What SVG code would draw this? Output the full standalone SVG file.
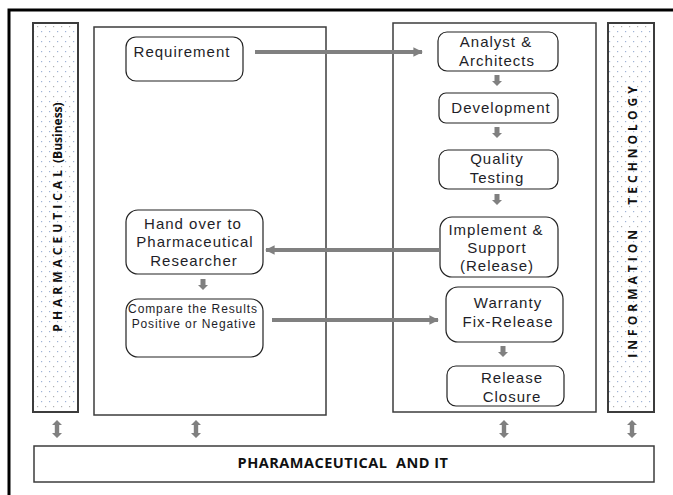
<svg xmlns="http://www.w3.org/2000/svg" width="673" height="495" viewBox="0 0 673 495">
  <defs>
    <pattern id="dots" x="0" y="0" width="8" height="10" patternUnits="userSpaceOnUse">
      <rect x="1" y="1" width="1.2" height="1.2" fill="#9fb3d6"/>
      <rect x="5" y="6" width="1.2" height="1.2" fill="#b0b0b0"/>
    </pattern>
    <marker id="head" viewBox="0 0 10 10" refX="9" refY="5" markerWidth="2.4" markerHeight="2.4" orient="auto" markerUnits="strokeWidth">
      <path d="M0,0 L10,5 L0,10 z" fill="#808080"/>
    </marker>
    <g id="down">
      <rect x="-2.5" y="0" width="5" height="6" fill="#808080"/>
      <path d="M-5,6 L5,6 L0,11 z" fill="#808080"/>
    </g>
    <g id="updown">
      <path d="M0,0 L5,5 L2.2,5 L2.2,13 L5,13 L0,18 L-5,13 L-2.2,13 L-2.2,5 L-5,5 z" fill="#808080"/>
    </g>
  </defs>
  <style>
    .panel { fill: #fff; stroke: #3c3c3c; stroke-width: 1.5; }
    .band { fill: url(#dots); stroke: #3c3c3c; stroke-width: 2; }
    .box { fill: #fff; stroke: #222; stroke-width: 1.2; }
    .t { font-family: "Liberation Sans", Arial, sans-serif; font-size: 15px; letter-spacing: 1px; fill: #1e1e28; text-anchor: middle; }
    .ts { font-size: 12px; letter-spacing: 0.9px; }
    .ft { font-family: "Open Sans", "Noto Sans", sans-serif; font-weight: bold; font-size: 14.5px; letter-spacing: 0.5px; fill: #111; text-anchor: middle; }
    .vt { font-family: "Open Sans", "Noto Sans", sans-serif; font-weight: bold; font-size: 12px; fill: #111; text-anchor: middle; }
    .link { stroke: #808080; stroke-width: 4; fill: none; marker-end: url(#head); }
  </style>

  <rect width="673" height="495" fill="#fff"/>
  <!-- outer frame -->
  <path d="M9,495 L9,10 L673,10" fill="none" stroke="#000" stroke-width="3"/>

  <!-- side bands -->
  <g id="band-pharma">
    <rect class="band" x="33" y="23" width="45" height="389"/>
    <text class="vt" transform="translate(62,217) rotate(-90)"><tspan letter-spacing="4">PHARMACEUTICAL</tspan><tspan> (Business)</tspan></text>
  </g>
  <g id="band-it">
    <rect class="band" x="608" y="23" width="46" height="389"/>
    <text class="vt" transform="translate(637,220) rotate(-90)" letter-spacing="4" xml:space="preserve">INFORMATION   TECHNOLOGY</text>
  </g>

  <!-- panels -->
  <g id="panel-business"><rect class="panel" x="94" y="27" width="232" height="388"/></g>
  <g id="panel-it"><rect class="panel" x="393" y="23" width="203" height="389"/></g>

  <!-- nodes -->
  <g id="requirement">
    <rect class="box" x="126" y="37" width="117" height="44" rx="10"/>
    <text class="t" x="182" y="57">Requirement</text>
  </g>
  <g id="handover">
    <rect class="box" x="126" y="210" width="137" height="64" rx="12"/>
    <text class="t" x="193" y="229">Hand over to</text>
    <text class="t" x="195" y="247">Pharmaceutical</text>
    <text class="t" x="194" y="266">Researcher</text>
  </g>
  <g id="compare">
    <rect class="box" x="126" y="299" width="137" height="58" rx="12"/>
    <text class="t ts" x="193" y="313">Compare the Results</text>
    <text class="t ts" x="194" y="328">Positive or Negative</text>
  </g>
  <g id="analyst">
    <rect class="box" x="438" y="32" width="120" height="39" rx="9"/>
    <text class="t" x="496" y="47">Analyst &amp;</text>
    <text class="t" x="497" y="66">Architects</text>
  </g>
  <g id="development">
    <rect class="box" x="439" y="93" width="119" height="30" rx="7"/>
    <text class="t" x="501" y="113">Development</text>
  </g>
  <g id="quality">
    <rect class="box" x="439" y="150" width="119" height="39" rx="9"/>
    <text class="t" x="497" y="164">Quality</text>
    <text class="t" x="497" y="183">Testing</text>
  </g>
  <g id="implement">
    <rect class="box" x="440" y="217" width="118" height="60" rx="12"/>
    <text class="t" x="496" y="235">Implement &amp;</text>
    <text class="t" x="497" y="253">Support</text>
    <text class="t" x="497" y="271">(Release)</text>
  </g>
  <g id="warranty">
    <rect class="box" x="446" y="287" width="117" height="55" rx="12"/>
    <text class="t" x="508" y="308">Warranty</text>
    <text class="t" x="508" y="327">Fix-Release</text>
  </g>
  <g id="closure">
    <rect class="box" x="447" y="366" width="117" height="40" rx="9"/>
    <text class="t" x="512" y="383">Release</text>
    <text class="t" x="512" y="402">Closure</text>
  </g>
  <g id="footer">
    <rect x="34" y="446" width="620" height="36" fill="#fff" stroke="#3c3c3c" stroke-width="1.5"/>
    <text class="ft" x="343" y="468" xml:space="preserve">PHARAMACEUTICAL  AND IT</text>
  </g>

  <!-- connectors -->
  <g id="connectors">
    <line class="link" x1="255" y1="52" x2="422" y2="52"/>
    <line class="link" x1="440" y1="250" x2="266" y2="250"/>
    <line class="link" x1="272" y1="320" x2="438" y2="320"/>
    <use href="#down" x="497" y="75"/>
    <use href="#down" x="497" y="127"/>
    <use href="#down" x="497" y="194"/>
    <use href="#down" x="203" y="279"/>
    <use href="#down" x="503" y="346"/>
    <use href="#updown" x="57" y="420"/>
    <use href="#updown" x="196" y="420"/>
    <use href="#updown" x="504" y="420"/>
    <use href="#updown" x="632" y="420"/>
  </g>
</svg>
